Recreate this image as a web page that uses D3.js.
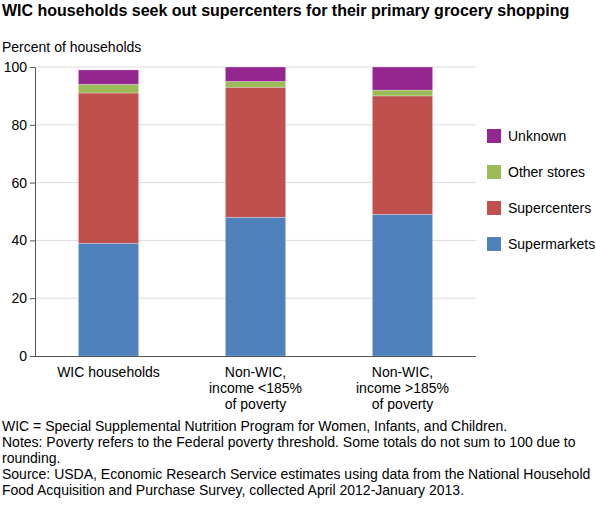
<!DOCTYPE html>
<html><head><meta charset="utf-8">
<script src="https://cdn.jsdelivr.net/npm/d3@7"></script>
<style>
body{margin:0;background:#fff;font-family:"Liberation Sans",Arial,sans-serif;}
</style></head>
<body><div id="chart"></div>
<script>
var categories = ["WIC households", "Non-WIC,\nincome <185%\nof poverty", "Non-WIC,\nincome >185%\nof poverty"];
var seriesNames = ["Supermarkets", "Supercenters", "Other stores", "Unknown"];
var supermarkets = [39, 48, 49];
var supercenters = [52, 45, 41];
var otherStores = [3, 2, 2];
var unknown = [5, 5, 8];
var yTicks = [0, 20, 40, 60, 80, 100];
var colors = ["#4f81bd", "#c0504d", "#9bbb59", "#93278f"];
var notes = [
  "WIC = Special Supplemental Nutrition Program for Women, Infants, and Children.",
  "Notes: Poverty refers to the Federal poverty threshold. Some totals do not sum to 100 due to",
  "rounding.",
  "Source: USDA, Economic Research Service estimates using data from the National Household",
  "Food Acquisition and Purchase Survey, collected April 2012-January 2013."
];

var svg = d3.select("#chart").append("svg").attr("width", 596).attr("height", 506);

svg.append("text").attr("x", 2).attr("y", 16).attr("font-size", 16).attr("font-weight", "bold")
   .text("WIC households seek out supercenters for their primary grocery shopping");
svg.append("text").attr("x", 2).attr("y", 52).attr("font-size", 14).text("Percent of households");

var x = d3.scaleBand().domain(d3.range(categories.length)).range([35, 476]).paddingInner(0.59).paddingOuter(0.295);
var y = d3.scaleLinear().domain([0, 100]).range([356, 67]);

var g = svg.append("g");
g.selectAll(".grid").data(yTicks.slice(1)).enter().append("line")
  .attr("x1", 35).attr("x2", 476).attr("y1", function (d) { return y(d); }).attr("y2", function (d) { return y(d); })
  .attr("stroke", "#dddddd");

var series = [supermarkets, supercenters, otherStores, unknown];
var rows = categories.map(function (c, i) {
  var r = { i: i };
  seriesNames.forEach(function (s, k) { r[s] = series[k][i]; });
  return r;
});
var stack = d3.stack().keys(seriesNames)(rows);

stack.forEach(function (layer, k) {
  g.selectAll(".b" + k).data(layer).enter().append("rect")
    .attr("x", function (d) { return x(d.data.i); })
    .attr("width", x.bandwidth())
    .attr("y", function (d) { return y(d[1]); })
    .attr("height", function (d) { return y(d[0]) - y(d[1]); })
    .attr("fill", colors[k]).attr("stroke", "#ffffff").attr("stroke-opacity", 0.35).attr("stroke-width", 0.8);
});

var yAxis = d3.axisLeft(y).tickValues(yTicks).tickSize(5).tickSizeOuter(0);
var ya = svg.append("g").attr("transform", "translate(35,0)").call(yAxis);
ya.select(".domain").attr("stroke", "#555");
ya.selectAll(".tick line").attr("stroke", "#555");
ya.selectAll("text").attr("font-size", 14).attr("fill", "#000").attr("font-family", "Liberation Sans, Arial");

svg.append("line").attr("x1", 35).attr("x2", 476).attr("y1", 356.5).attr("y2", 356.5).attr("stroke", "#555");

categories.forEach(function (c, i) {
  var t = svg.append("text").attr("text-anchor", "middle").attr("font-size", 14)
    .attr("x", x(i) + x.bandwidth() / 2).attr("y", 377);
  c.split("\n").forEach(function (line, j) {
    t.append("tspan").attr("x", x(i) + x.bandwidth() / 2).attr("dy", j ? 16 : 0).text(line);
  });
});

var legend = svg.append("g");
seriesNames.slice().reverse().forEach(function (s, j) {
  var k = seriesNames.length - 1 - j;
  var yy = 129 + j * 36;
  legend.append("rect").attr("x", 487).attr("y", yy).attr("width", 14).attr("height", 14).attr("fill", colors[k]);
  legend.append("text").attr("x", 508).attr("y", yy + 12).attr("font-size", 14).text(s);
});

notes.forEach(function (n, i) {
  svg.append("text").attr("x", 2).attr("y", 431 + i * 16).attr("font-size", 14).text(n);
});
</script></body></html>
